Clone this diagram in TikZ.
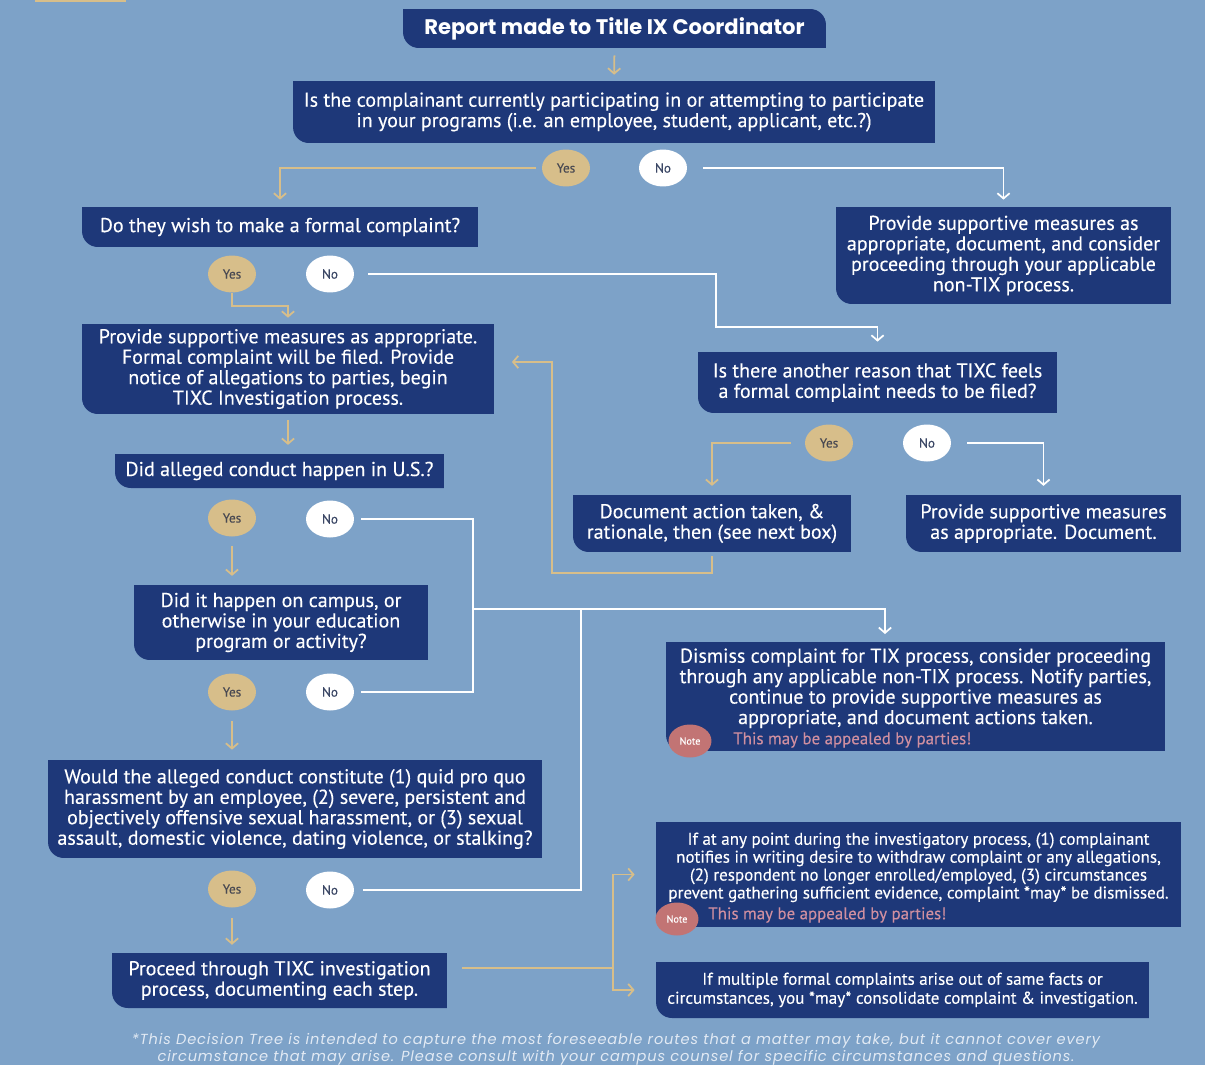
\documentclass[tikz,border=0pt]{standalone}
\usepackage{fontspec}
\setmainfont{PT Sans}[FakeBold=0.25]
\newfontfamily\titlefont{Poppins}
\usetikzlibrary{arrows.meta,shapes.geometric}
\definecolor{bg}{HTML}{7DA2C8}
\definecolor{navy}{HTML}{1E3879}
\definecolor{tan}{HTML}{D7BE8A}
\definecolor{yesink}{HTML}{4A4A52}
\definecolor{noink}{HTML}{3C4866}
\definecolor{notered}{HTML}{C27474}
\definecolor{notepink}{HTML}{CF8FA0}
\definecolor{footink}{HTML}{E2EAF4}
\tikzset{
  leafbox/.style={text=white, align=center, inner sep=0pt,
    font=\fontsize{11.4}{11.65}\selectfont,
    path picture={\fill[navy] (path picture bounding box.north west)
      -- (path picture bounding box.north east)
      -- (path picture bounding box.south east)
      -- ([xshift=9pt]path picture bounding box.south west)
      .. controls ([xshift=4pt]path picture bounding box.south west)
      and ([yshift=4pt]path picture bounding box.south west)
      .. ([yshift=9pt]path picture bounding box.south west)
      -- cycle;}},
  titlebox/.style={leafbox, font=\titlefont\fontsize{12}{13}\selectfont\bfseries,
    path picture={\fill[navy] (path picture bounding box.north west)
      -- ([xshift=-9pt]path picture bounding box.north east)
      .. controls ([xshift=-4pt]path picture bounding box.north east)
      and ([yshift=-4pt]path picture bounding box.north east)
      .. ([yshift=-9pt]path picture bounding box.north east)
      -- (path picture bounding box.south east)
      -- ([xshift=9pt]path picture bounding box.south west)
      .. controls ([xshift=4pt]path picture bounding box.south west)
      and ([yshift=4pt]path picture bounding box.south west)
      .. ([yshift=9pt]path picture bounding box.south west)
      -- cycle;}},
  smallbox/.style={leafbox, font=\fontsize{9.7}{10.2}\selectfont},
  yesdot/.style={ellipse, fill=tan, text=yesink, inner sep=0pt,
    minimum width=0.96cm, minimum height=0.74cm, font=\fontsize{7.5}{8}\selectfont},
  nodot/.style={yesdot, fill=white, text=noink},
  notedot/.style={ellipse, fill=notered, text=white, inner sep=0pt,
    minimum width=0.86cm, minimum height=0.66cm, font=\fontsize{5.8}{6}\selectfont},
  notetext/.style={text=notepink, inner sep=0pt, font=\fontsize{9.6}{10}\selectfont},
  tanline/.style={draw=tan, line width=1pt},
  tanarrow/.style={tanline, -{Straight Barb[length=3pt,width=7pt]}},
  whiteline/.style={draw=white, line width=1pt},
  whitearrow/.style={whiteline, -{Straight Barb[length=3pt,width=7pt]}},
}
\begin{document}
\begin{tikzpicture}[x=0.02cm, y=-0.02cm]
  \fill[bg] (0,0) rectangle (1205,1065);
  \useasboundingbox (0,0) rectangle (1205,1065);
  \fill[tan] (35,0) rectangle (126,2);

  % boxes
  \node[titlebox, minimum width=8.46cm, minimum height=0.78cm] (report) at (614.5,28.5) {Report made to Title IX Coordinator};
  \node[leafbox, minimum width=12.84cm, minimum height=1.24cm] (part) at (614,112)
    {Is the complainant currently participating in or attempting to participate\\in your programs (i.e. an employee, student, applicant, etc.?)};
  \node[leafbox, minimum width=7.92cm, minimum height=0.8cm] (formal) at (280,227) {Do they wish to make a formal complaint?};
  \node[leafbox, minimum width=6.7cm, minimum height=1.94cm] (nontix) at (1003.5,255.5)
    {Provide supportive measures as\\appropriate, document, and consider\\proceeding through your applicable\\non-TIX process.};
  \node[leafbox, minimum width=8.24cm, minimum height=1.8cm] (filed) at (288,369)
    {Provide supportive measures as appropriate.\\Formal complaint will be filed. Provide\\notice of allegations to parties, begin\\TIXC Investigation process.};
  \node[leafbox, minimum width=7.18cm, minimum height=1.22cm] (reason) at (877.5,382.5)
    {Is there another reason that TIXC feels\\a formal complaint needs to be filed?};
  \node[leafbox, minimum width=5.56cm, minimum height=1.14cm] (docaction) at (712,523.5)
    {Document action taken, \&\\rationale, then (see next box)};
  \node[leafbox, minimum width=5.5cm, minimum height=1.14cm] (supp) at (1043.5,523.5)
    {Provide supportive measures\\as appropriate. Document.};
  \node[leafbox, minimum width=6.58cm, minimum height=0.68cm] (us) at (279.5,471) {Did alleged conduct happen in U.S.?};
  \node[leafbox, minimum width=5.88cm, minimum height=1.5cm] (campus) at (281,622.5)
    {Did it happen on campus, or\\otherwise in your education\\program or activity?};
  \node[leafbox, minimum width=9.88cm, minimum height=1.96cm] (conduct) at (295,809)
    {Would the alleged conduct constitute (1) quid pro quo\\harassment by an employee, (2) severe, persistent and\\objectively offensive sexual harassment, or (3) sexual\\assault, domestic violence, dating violence, or stalking?};
  \node[leafbox, minimum width=6.7cm, minimum height=1.1cm] (proceed) at (279.5,980.5)
    {Proceed through TIXC investigation\\process, documenting each step.};
  \node[leafbox, minimum width=9.98cm, minimum height=2.18cm] (dismiss) at (915.5,696.5)
    {Dismiss complaint for TIX process, consider proceeding\\through any applicable non-TIX process. Notify parties,\\continue to provide supportive measures as\\appropriate, and document actions taken.\\\mbox{}};
  \node[smallbox, minimum width=10.5cm, minimum height=2.1cm] (withdraw) at (918.5,874.5)
    {If at any point during the investigatory process, (1) complainant\\notifies in writing desire to withdraw complaint or any allegations,\\(2) respondent no longer enrolled/employed, (3) circumstances\\prevent gathering sufficient evidence, complaint *may* be dismissed.\\\mbox{}};
  \node[smallbox, font=\fontsize{9.7}{10.8}\selectfont, minimum width=9.86cm, minimum height=1.12cm] (multiple) at (902.5,990)
    {If multiple formal complaints arise out of same facts or\\circumstances, you *may* consolidate complaint \& investigation.};

  % notes
  \node[notetext, anchor=west] (dismisstext) at (733,740) {This may be appealed by parties!};
  \node[notedot] (dismissnote) at (690,741) {Note};
  \node[notetext, anchor=west] (withdrawtext) at (708,915) {This may be appealed by parties!};
  \node[notedot] (withdrawnote) at (677,919) {Note};

  % answers
  \node[yesdot] (yesA) at (566,168) {Yes};
  \node[nodot] (noA) at (663,168) {No};
  \node[yesdot] (yesB) at (232,274) {Yes};
  \node[nodot] (noB) at (330,274) {No};
  \node[yesdot] (yesF) at (829,443) {Yes};
  \node[nodot] (noF) at (927,443) {No};
  \node[yesdot] (yesC) at (232,518) {Yes};
  \node[nodot] (noC) at (330,519) {No};
  \node[yesdot] (yesD) at (232,692) {Yes};
  \node[nodot] (noD) at (330,692) {No};
  \node[yesdot] (yesE) at (232,889) {Yes};
  \node[nodot] (noE) at (330,890) {No};

  \coordinate (bendB) at (716,327);
  \coordinate (loopUp) at (552,362);
  \coordinate (jUS) at (473,609);
  \coordinate (jCond) at (581,609);
  \coordinate (dTop) at (885,634);
  \coordinate (fork) at (613,968);

  % connectors
  \draw[tanarrow, shorten <=4pt, shorten >=3.4pt] (report.south) -- (part.north);
  \draw[tanarrow, shorten <=3pt, shorten >=4pt] (yesA.west) -| (formal.north);
  \draw[whitearrow, shorten <=9pt, shorten >=4pt] (noA.east) -| (nontix.north);
  \draw[tanarrow, shorten >=3.4pt] (yesB.south) -- ++(0,13) -| (filed.north);
  \draw[whitearrow, shorten <=8pt, shorten >=5.7pt] (noB.east) -| (bendB) -| (reason.north);
  \draw[tanarrow, shorten <=8pt, shorten >=5pt] (yesF.west) -| (docaction.north);
  \draw[whitearrow, shorten <=9pt, shorten >=5pt] (noF.east) -| (supp.north);
  \draw[tanarrow, shorten <=2.3pt, shorten >=10pt] (docaction.south) -- ++(0,21) -| (loopUp) -- (loopUp -| filed.east);
  \draw[tanarrow, shorten <=3.4pt, shorten >=5pt] (filed.south) -- (filed.south |- us.north);
  \draw[tanarrow, shorten <=5pt, shorten >=5pt] (yesC.south) -- (yesC.south |- campus.north);
  \draw[whiteline, shorten <=4pt] (noC.east) -| (jUS);
  \draw[tanarrow, shorten <=5.7pt, shorten >=5.7pt] (yesD.south) -- (yesD.south |- conduct.north);
  \draw[whiteline, shorten <=4pt] (noD.east) -| (jUS);
  \draw[whitearrow] (jUS) -| (dTop);
  \draw[tanarrow, shorten <=5.7pt, shorten >=4.5pt] (yesE.south) -- (yesE.south |- proceed.north);
  \draw[whiteline, shorten <=5pt] (noE.east) -| (jCond);
  \draw[tanline, shorten <=8.5pt] (proceed.east |- fork) -- (fork);
  \draw[tanarrow, shorten >=12pt] (fork) |- (withdraw.west);
  \draw[tanarrow, shorten >=12pt] (fork) |- (multiple.west);

  % footer
  \node[text=footink, align=center, inner sep=0pt,
    font=\titlefont\itshape\fontsize{8.3}{8.3}\selectfont\addfontfeature{LetterSpace=6}] (footer) at (616,1049)
    {*This Decision Tree is intended to capture the most foreseeable routes that a matter may take, but it cannot cover every\\circumstance that may arise. Please consult with your campus counsel for specific circumstances and questions.};
\end{tikzpicture}
\end{document}
